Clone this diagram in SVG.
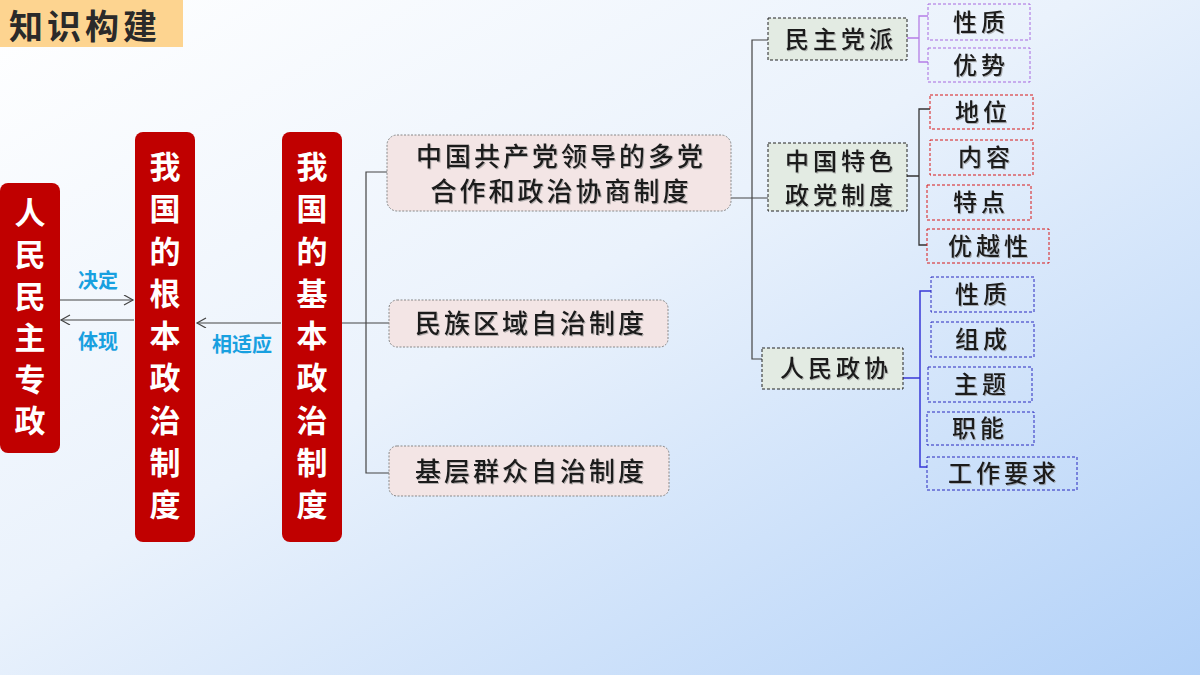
<svg xmlns="http://www.w3.org/2000/svg" width="1200" height="675" viewBox="0 0 1200 675">
<defs>
<linearGradient id="bg" x1="0" y1="0" x2="1" y2="1">
<stop offset="0" stop-color="#ffffff"/>
<stop offset="0.45" stop-color="#eaf2fc"/>
<stop offset="1" stop-color="#b2d1f8"/>
</linearGradient>
<marker id="ah" markerWidth="12" markerHeight="12" refX="10" refY="5" orient="auto" markerUnits="userSpaceOnUse">
<path d="M1,0 L10,5 L1,10" fill="none" stroke="#444" stroke-width="1.2"/>
</marker>
<filter id="sh" x="-10%" y="-10%" width="120%" height="130%">
<feDropShadow dx="1" dy="1" stdDeviation="0.6" flood-color="#888" flood-opacity="0.6"/>
</filter>
</defs>
<style>
.red{fill:#c00000;}
.rt{font-family:"Noto Sans CJK SC","Noto Sans",sans-serif;font-weight:bold;font-size:31px;fill:#ffffff;text-anchor:middle;}
.lab{font-family:"Noto Sans CJK SC","Noto Sans",sans-serif;font-weight:bold;font-size:20px;fill:#18a0e0;text-anchor:middle;}
.pink{fill:#f3e5e5;stroke:#888;stroke-width:1;stroke-dasharray:2 1.5;}
.grn{fill:#e3ebe3;stroke:#222;stroke-width:1;stroke-dasharray:3 2;}
.pur{fill:none;stroke:#a868e0;stroke-width:1;stroke-dasharray:3 2;}
.rd{fill:none;stroke:#d81818;stroke-width:1;stroke-dasharray:3 2;}
.bl{fill:none;stroke:#2828c0;stroke-width:1;stroke-dasharray:3 2;}
.t1{font-family:"Noto Sans CJK SC","Noto Sans",sans-serif;font-size:26px;font-weight:500;fill:#1a1a1a;text-anchor:middle;letter-spacing:3px;filter:url(#sh);}
.t2{font-family:"Noto Sans CJK SC","Noto Sans",sans-serif;font-size:24px;font-weight:500;fill:#1a1a1a;text-anchor:middle;letter-spacing:4px;filter:url(#sh);}
.ln{fill:none;stroke:#444;stroke-width:1.2;}
</style>
<rect x="0" y="0" width="1200" height="675" fill="url(#bg)"/>
<g id="title">
<rect x="0" y="0" width="183" height="47" fill="#fdd490"/>
<text x="9" y="39" font-family="'Noto Sans CJK SC','Noto Sans',sans-serif" font-weight="bold" font-size="34" fill="#2a2a2a" letter-spacing="4">知识构建</text>
</g>
<g id="connectors">
<line x1="60" y1="300" x2="133" y2="300" class="ln" marker-end="url(#ah)"/>
<line x1="134" y1="320" x2="61" y2="320" class="ln" marker-end="url(#ah)"/>
<line x1="281" y1="323" x2="197" y2="323" class="ln" marker-end="url(#ah)"/>
<path d="M342,323 H366 M387,172 H366 V473 H389 M366,323 H389" class="ln" stroke="#555"/>
<path d="M731,198 H752 M768,40 H752 V359 H762 M752,198 H768" class="ln" stroke="#222"/>
<path d="M907,38 H919 M928,16 H919 V62 H928" fill="none" stroke="#b57ee6" stroke-width="1.3"/>
<path d="M907,176 H919 M930,109 H919 V245 H927" fill="none" stroke="#333" stroke-width="1.3"/>
<path d="M903,378 H920 M931,291 H920 V467 H927" fill="none" stroke="#3838d8" stroke-width="1.5"/>
</g>
<g id="labels">
<text x="98" y="288" class="lab">决定</text>
<text x="98" y="349" class="lab">体现</text>
<text x="242" y="352" class="lab">相适应</text>
</g>
<g id="n-renmin">
<rect x="0" y="183" width="60" height="270" rx="8" class="red"/>
<text class="rt"><tspan x="30" y="224">人</tspan><tspan x="30" y="266">民</tspan><tspan x="30" y="308">民</tspan><tspan x="30" y="349">主</tspan><tspan x="30" y="391">专</tspan><tspan x="30" y="432">政</tspan></text>
</g>
<g id="n-genben">
<rect x="135" y="132" width="60" height="410" rx="8" class="red"/>
<text class="rt"><tspan x="165" y="178">我</tspan><tspan x="165" y="220">国</tspan><tspan x="165" y="263">的</tspan><tspan x="165" y="305">根</tspan><tspan x="165" y="347">本</tspan><tspan x="165" y="389">政</tspan><tspan x="165" y="432">治</tspan><tspan x="165" y="474">制</tspan><tspan x="165" y="516">度</tspan></text>
</g>
<g id="n-jiben">
<rect x="282" y="132" width="60" height="410" rx="8" class="red"/>
<text class="rt"><tspan x="312" y="178">我</tspan><tspan x="312" y="220">国</tspan><tspan x="312" y="263">的</tspan><tspan x="312" y="305">基</tspan><tspan x="312" y="347">本</tspan><tspan x="312" y="389">政</tspan><tspan x="312" y="432">治</tspan><tspan x="312" y="474">制</tspan><tspan x="312" y="516">度</tspan></text>
</g>
<g id="n-duodang">
<rect x="387" y="135" width="344" height="76" rx="10" class="pink"/>
<text class="t1"><tspan x="561" y="166">中国共产党领导的多党</tspan><tspan x="561" y="201">合作和政治协商制度</tspan></text>
</g>
<g id="n-minzu">
<rect x="389" y="300" width="279" height="47" rx="8" class="pink"/>
<text x="531" y="333" class="t1" letter-spacing="4">民族区域自治制度</text>
</g>
<g id="n-jiceng">
<rect x="389" y="446" width="280" height="50" rx="8" class="pink"/>
<text x="531" y="481" class="t1" letter-spacing="4">基层群众自治制度</text>
</g>
<g id="n-mzdp">
<rect x="768" y="18" width="139" height="42" class="grn"/>
<text x="841" y="48" class="t2" letter-spacing="5">民主党派</text>
</g>
<g id="n-zgts">
<rect x="768" y="143" width="139" height="68" class="grn"/>
<text class="t2" letter-spacing="5"><tspan x="841" y="170">中国特色</tspan><tspan x="841" y="204">政党制度</tspan></text>
</g>
<g id="n-rmzx">
<rect x="762" y="348" width="141" height="41" class="grn"/>
<text x="836" y="377" class="t2" letter-spacing="5">人民政协</text>
</g>
<g id="n-p1"><rect x="928" y="4" width="102" height="36" class="pur"/><text x="981" y="31" class="t2">性质</text></g>
<g id="n-p2"><rect x="928" y="48" width="102" height="34" class="pur"/><text x="981" y="74" class="t2">优势</text></g>
<g id="n-r1"><rect x="930" y="95" width="103" height="34" class="rd"/><text x="983" y="121" class="t2">地位</text></g>
<g id="n-r2"><rect x="930" y="140" width="103" height="35" class="rd"/><text x="986" y="166" class="t2" letter-spacing="8">内容</text></g>
<g id="n-r3"><rect x="927" y="185" width="104" height="35" class="rd"/><text x="981" y="211" class="t2">特点</text></g>
<g id="n-r4"><rect x="927" y="229" width="122" height="34" class="rd"/><text x="990" y="255" class="t2" letter-spacing="1">优越性</text></g>
<g id="n-b1"><rect x="931" y="277" width="103" height="35" class="bl"/><text x="983" y="303" class="t2">性质</text></g>
<g id="n-b2"><rect x="931" y="322" width="103" height="35" class="bl"/><text x="983" y="348" class="t2">组成</text></g>
<g id="n-b3"><rect x="928" y="367" width="104" height="35" class="bl"/><text x="982" y="393" class="t2">主题</text></g>
<g id="n-b4"><rect x="927" y="412" width="107" height="33" class="bl"/><text x="980" y="437" class="t2">职能</text></g>
<g id="n-b5"><rect x="927" y="457" width="150" height="33" class="bl"/><text x="1004" y="482" class="t2" letter-spacing="5">工作要求</text></g>
</svg>
